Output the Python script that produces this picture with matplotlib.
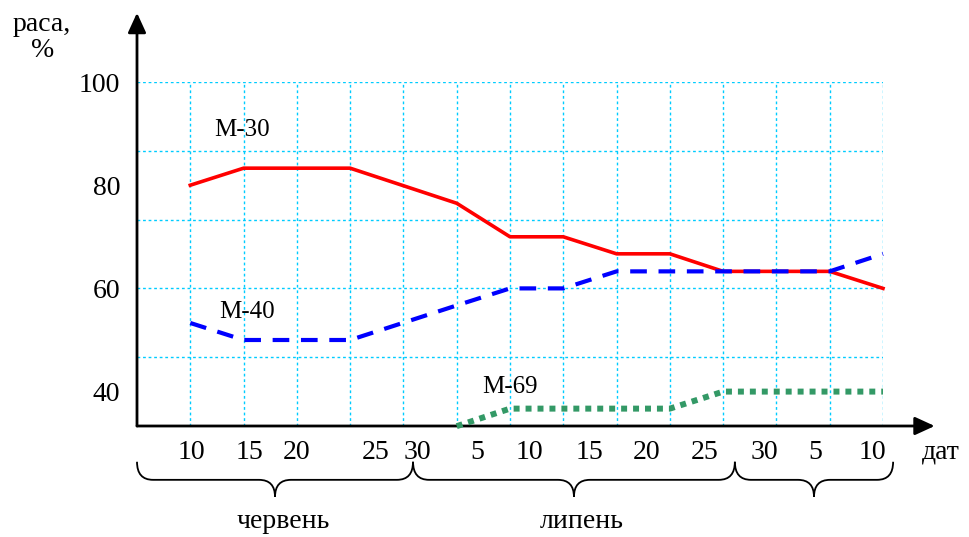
import numpy as np
import matplotlib
matplotlib.use("Agg")
import matplotlib.pyplot as plt
from matplotlib.path import Path
from matplotlib.patches import PathPatch

# позиції по осі x - номери вертикальних ліній сітки
x_m30 = [1, 2, 4, 6, 7, 8, 9, 10, 11, 13, 14]
y_m30 = [80, 83.3, 83.3, 76.5, 70, 70, 66.7, 66.7, 63.3, 63.3, 60]

x_m40 = [1, 2, 4, 6, 7, 8, 9, 13, 14]
y_m40 = [53.3, 50, 50, 56.7, 60, 60, 63.3, 63.3, 66.7]

x_m69 = [6, 7, 10, 11, 14]
y_m69 = [33.3, 36.7, 36.7, 40, 40]

date_labels = ["10", "15", "20", "25", "30", "5", "10", "15", "20", "25", "30", "5", "10"]
date_pos = [1.03, 2.12, 3.0, 4.48, 5.27, 6.38, 7.37, 8.5, 9.57, 10.66, 11.78, 12.72, 13.8]
y_ticks = [40, 60, 80, 100]
months = ["червень", "липень", ""]
month_spans = [(0, 5.18), (5.18, 11.22), (11.22, 14.19)]

plt.rcParams['font.family'] = ['Liberation Serif', 'DejaVu Serif']
FS = 20

fig = plt.figure(figsize=(9.7, 5.37), dpi=100)
ax = fig.add_axes([137/970, (537-426)/537, 746/970, 344/537])
ymin, ymax = 100 - 344/5.16, 100
ax.set_xlim(0, 14)
ax.set_ylim(ymin, ymax)
for s in ax.spines.values():
    s.set_visible(False)

# сітка
grid_kw = dict(color='#00CCFF', lw=1, linestyle=(0, (2, 2)), zorder=1)
ax.hlines(np.arange(ymin + 13.333, 100.5, 13.333), 0, 14, **grid_kw)
ax.vlines(np.arange(1, 15), ymin, 100, **grid_kw)

# осі зі стрілками
arr = dict(arrowstyle="-|>,head_length=1.2,head_width=0.55", lw=2,
           color='black', shrinkA=0, shrinkB=0)
ax.annotate("", xy=(14.97, ymin), xytext=(0, ymin), arrowprops=arr, annotation_clip=False)
ax.annotate("", xy=(0, 113.4), xytext=(0, ymin), arrowprops=arr, annotation_clip=False)

ax.plot(x_m30, y_m30, color='#FF0000', lw=2.6, zorder=3, clip_on=False)
ax.plot(x_m40, y_m40, color='#0000FF', lw=3, linestyle=(0, (4, 2.8)), zorder=4, clip_on=False)
ax.plot(x_m69, y_m69, color='#339966', lw=4.3, linestyle=(0, (1, 1)), zorder=4, clip_on=False)

ax.text(1.97, 90.7, "М-30", fontsize=18, ha='center', va='center')
ax.text(2.06, 55.4, "М-40", fontsize=18, ha='center', va='center')
ax.text(7.0, 40.9, "М-69", fontsize=18, ha='center', va='center')

ax.set_xticks(date_pos, date_labels)
ax.set_yticks(y_ticks)
ax.tick_params(axis='x', length=0, pad=10, labelsize=FS)
ax.tick_params(axis='y', length=0, pad=12, labelsize=FS)

ax.text(14.73, 28.3, "дат", fontsize=FS, ha='left', va='center')
ax.text(-1.78, 108.6, "раса,\n%", fontsize=FS, ha='center', va='center',
        multialignment='center', linespacing=1.05)

# фігурні дужки під датами
def brace(x0, x1, ytop=26.4, ymid=22.9, ytip=19.6, r=0.3):
    xm = (x0 + x1) / 2
    verts = [(x0, ytop), (x0, ymid), (x0 + r, ymid), (xm - r, ymid), (xm, ymid), (xm, ytip),
             (xm, ymid), (xm + r, ymid), (x1 - r, ymid), (x1, ymid), (x1, ytop)]
    codes = [Path.MOVETO, Path.CURVE3, Path.CURVE3, Path.LINETO, Path.CURVE3, Path.CURVE3,
             Path.CURVE3, Path.CURVE3, Path.LINETO, Path.CURVE3, Path.CURVE3]
    ax.add_patch(PathPatch(Path(verts, codes), fill=False, lw=1.3, color='black', clip_on=False))
    return xm

for name, (a, b) in zip(months, month_spans):
    xm = brace(a, b)
    if name:
        ax.text(xm + 0.15, 14.9, name, fontsize=FS, ha='center', va='center')

fig.savefig("out.png", dpi=100)
